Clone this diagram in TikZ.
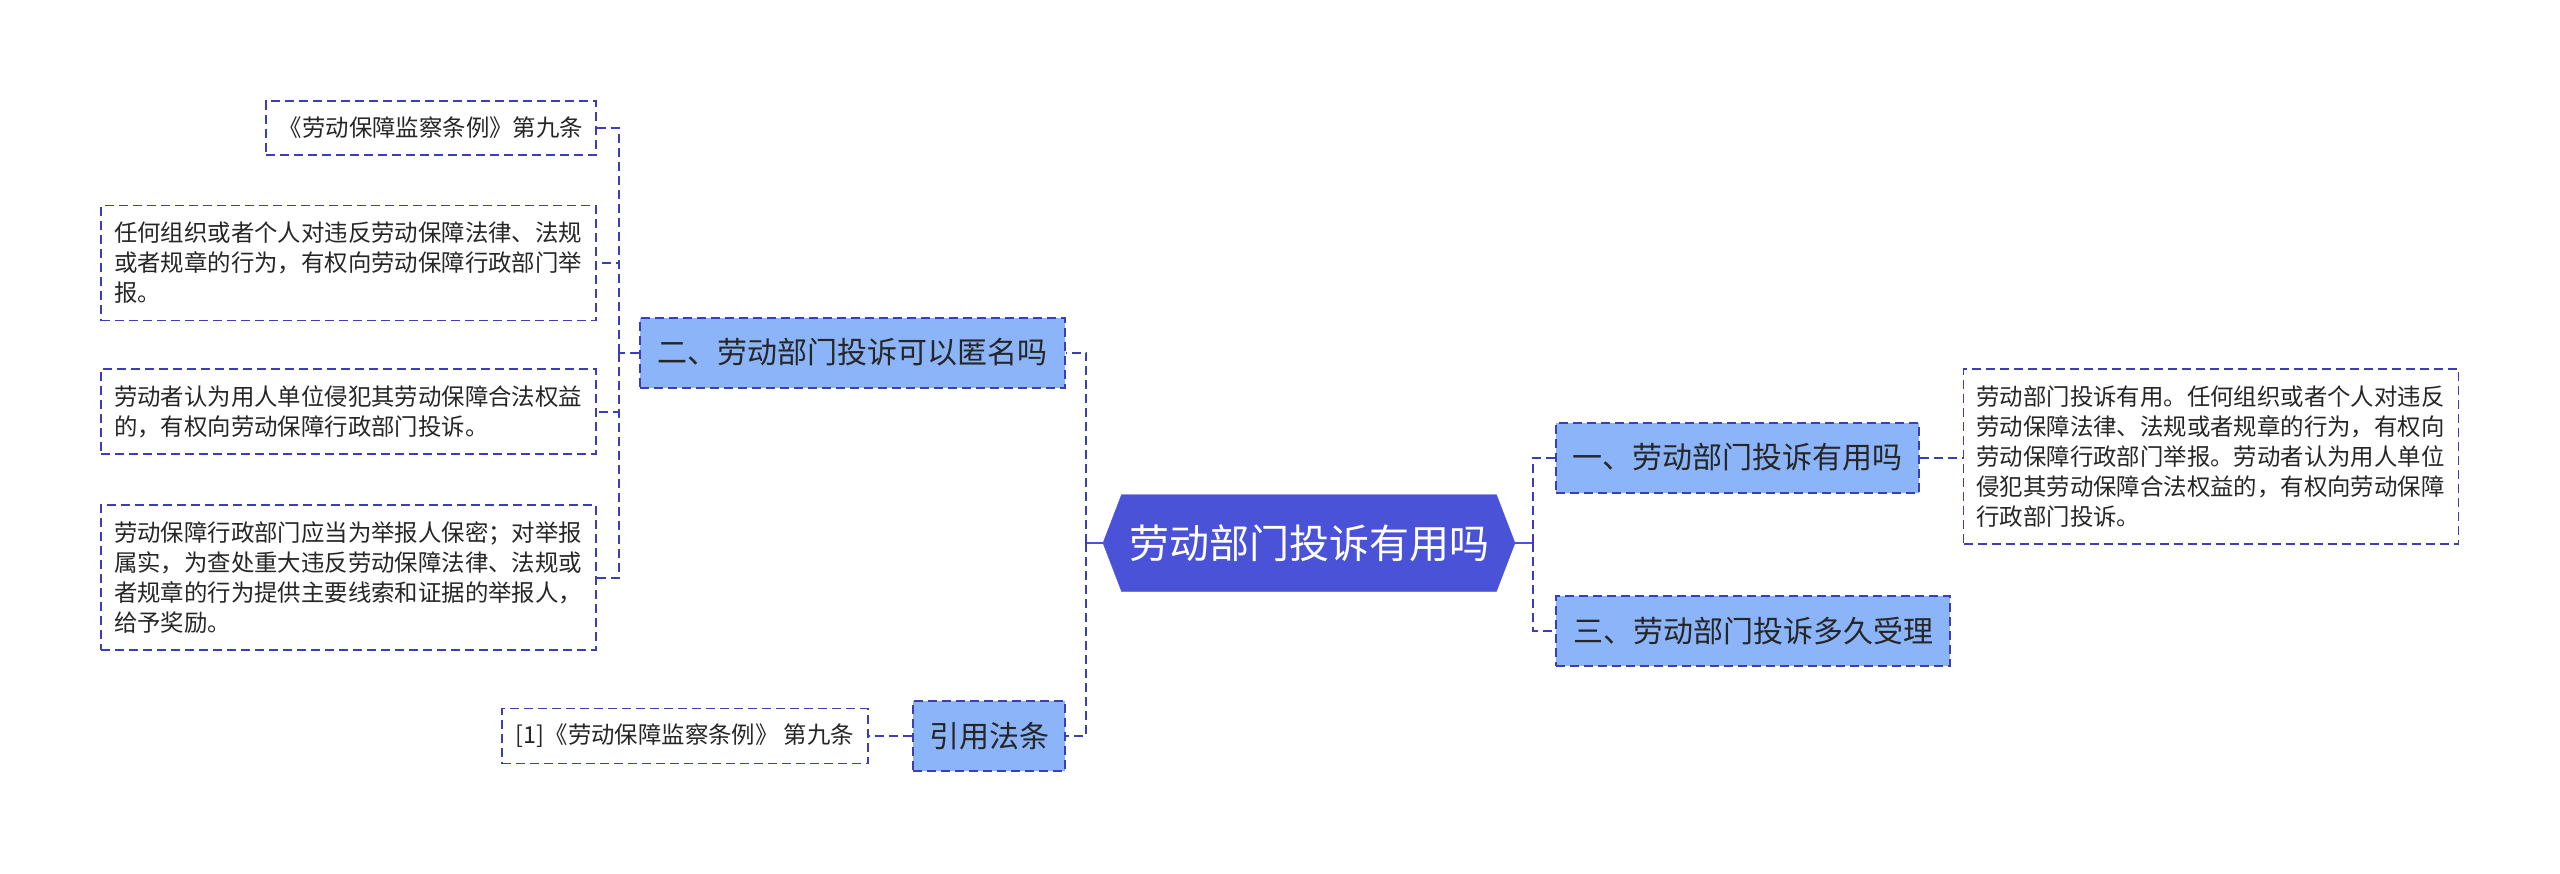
\documentclass[tikz,border=0pt]{standalone}
\usepackage{fontspec}
\setmainfont{Noto Sans CJK SC}
\usepackage{tikz}
\usetikzlibrary{shapes.symbols,positioning}

\definecolor{hubblue}{HTML}{4A52D8}
\definecolor{topicblue}{HTML}{8BB4F9}
\definecolor{linkblue}{HTML}{3B3EB8}

\begin{document}
\begin{tikzpicture}[
    x=1pt, y=-1pt,
    hub/.style={shape=signal, signal to=west and east, signal pointer angle=138, fill=hubblue, draw=hubblue,
        minimum width=412pt, minimum height=97pt, inner sep=0pt, text=white, font=\fontsize{40}{48}\selectfont},
    topic/.style={draw=linkblue, line width=2pt, dash pattern=on 9pt off 5pt, fill=topicblue, inner sep=0pt,
        minimum height=70pt, font=\fontsize{30}{36}\selectfont, text=black!85},
    leaf/.style={draw=linkblue, line width=1.8pt, dash pattern=on 9pt off 5pt, fill=white, align=left,
        inner xsep=13pt, inner ysep=0pt, text=black!85, font=\fontsize{23.4}{30}\selectfont},
    link/.style={draw=linkblue, line width=2pt, dash pattern=on 9pt off 5pt},
    stub/.style={draw=hubblue, line width=2.5pt}
]
\useasboundingbox (0,0) rectangle (2560,873);

% centre
\node[hub] (hub) at (1309,543) {劳动部门投诉有用吗};

% left branches
\node[topic, minimum width=425pt] (q2) at (852.5,352.5) {二、劳动部门投诉可以匿名吗};
\node[topic, minimum width=152pt] (cite) at (989,736) {引用法条};

% right branches
\node[topic, minimum width=363pt] (q1) at (1737.5,457.5) {一、劳动部门投诉有用吗};
\node[topic, minimum width=394pt] (q3) at (1753,631) {三、劳动部门投诉多久受理};

% leaves
\node[leaf, minimum width=330pt, minimum height=54pt] (l1) at (431,128) {《劳动保障监察条例》第九条};
\node[leaf, text width=469pt, minimum height=115pt] (l2) at (348.5,263) {任何组织或者个人对违反劳动保障法律、法规\\或者规章的行为，有权向劳动保障行政部门举\\报。};
\node[leaf, text width=469pt, minimum height=85pt] (l3) at (348.5,411.5) {劳动者认为用人单位侵犯其劳动保障合法权益\\的，有权向劳动保障行政部门投诉。};
\node[leaf, text width=469pt, minimum height=145pt] (l4) at (348.5,577.5) {劳动保障行政部门应当为举报人保密；对举报\\属实，为查处重大违反劳动保障法律、法规或\\者规章的行为提供主要线索和证据的举报人，\\给予奖励。};
\node[leaf, text width=469pt, minimum height=175pt] (r1) at (2211,456.5) {劳动部门投诉有用。任何组织或者个人对违反\\劳动保障法律、法规或者规章的行为，有权向\\劳动保障行政部门举报。劳动者认为用人单位\\侵犯其劳动保障合法权益的，有权向劳动保障\\行政部门投诉。};
\node[leaf, minimum width=366pt, minimum height=55pt] (c1) at (685,736) {[1]《劳动保障监察条例》 第九条};

% joints
\coordinate (lj) at (1086,543);
\coordinate (rj) at (1533,543);
\coordinate (qj) at (619,352.5);

\draw[stub] (hub.west) -- (lj);
\draw[stub] (hub.east) -- (rj);
\draw[link] (lj) |- (q2.east);
\draw[link] (lj) |- (cite.east);
\draw[link] (rj) |- (q1.west);
\draw[link] (rj) |- (q3.west);

\draw[link] (q2.west) -- (qj);
\draw[link] (qj) |- (l1.east);
\draw[link] (qj) |- (l2.east);
\draw[link] (qj) |- (l3.east);
\draw[link] (qj) |- (l4.east);

\draw[link] (q1.east) -- (r1.west |- q1.east);
\draw[link] (cite.west) -- (c1.east);
\end{tikzpicture}
\end{document}
